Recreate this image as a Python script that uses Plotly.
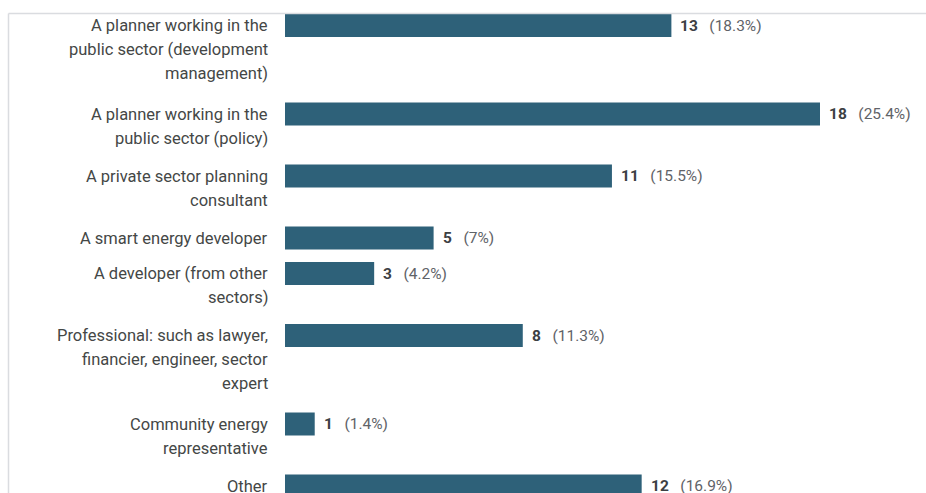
import plotly.graph_objects as go

categories = [
    ["A planner working in the", "public sector (development", "management)"],
    ["A planner working in the", "public sector (policy)"],
    ["A private sector planning", "consultant"],
    ["A smart energy developer"],
    ["A developer (from other", "sectors)"],
    ["Professional: such as lawyer,", "financier, engineer, sector", "expert"],
    ["Community energy", "representative"],
    ["Other"],
]
counts = [13, 18, 11, 5, 3, 8, 1, 12]
percents = ["18.3%", "25.4%", "15.5%", "7%", "4.2%", "11.3%", "1.4%", "16.9%"]

W, H = 926, 493
LEFT = 285
PX_PER_UNIT = (820 - 285) / 18.0
LINE = 24
BAR_H = 23
TOP0 = 14

# vertical layout derived from label line counts
tops = []
t = TOP0
for lines in categories:
    tops.append(t)
    t += 26.5 * len(lines) + 9
centers = [tp + BAR_H / 2 for tp in tops]

BAR_COLOR = "#2e6179"
LABEL_COLOR = "#444746"
FONT = "Roboto"

fig = go.Figure()
fig.add_trace(go.Bar(
    x=counts, y=centers, orientation="h", width=BAR_H,
    marker=dict(color=BAR_COLOR, line=dict(width=0)),
    hoverinfo="skip",
))

ann = []
for lines, c in zip(categories, centers):
    for i, ln in enumerate(lines):
        ann.append(dict(
            x=0, xref="paper", y=c + i * LINE, yref="y", text=ln,
            xanchor="right", yanchor="middle", xshift=-15, showarrow=False,
            align="right", font=dict(family=FONT, size=16.5, color=LABEL_COLOR),
        ))
for v, p, c in zip(counts, percents, centers):
    ann.append(dict(
        x=v, xref="x", y=c, yref="y",
        text=f"<b>{v}</b>&nbsp;&nbsp;&nbsp;<span style='color:#5f6368'>({p})</span>",
        xanchor="left", yanchor="middle", xshift=7, showarrow=False,
        font=dict(family=FONT, size=15.5, color="#3c4043"),
    ))

plot_w = W - LEFT
border = "#dadce0"
shapes = [
    dict(type="line", xref="paper", yref="paper",
         x0=(8.5 - LEFT) / plot_w, x1=1.0, y0=1 - 13.5 / H, y1=1 - 13.5 / H,
         line=dict(color=border, width=1.5)),
    dict(type="line", xref="paper", yref="paper",
         x0=(8.5 - LEFT) / plot_w, x1=(8.5 - LEFT) / plot_w, y0=0, y1=1 - 13.5 / H,
         line=dict(color=border, width=1.5)),
]

fig.update_layout(
    width=W, height=H,
    margin=dict(l=LEFT, r=0, t=0, b=0),
    paper_bgcolor="white", plot_bgcolor="white",
    showlegend=False,
    xaxis=dict(range=[0, plot_w / PX_PER_UNIT], visible=False, fixedrange=True),
    yaxis=dict(range=[H, 0], visible=False, fixedrange=True),
    annotations=ann, shapes=shapes,
    font=dict(family=FONT),
)

fig.write_html("out.html", config={"displayModeBar": False})
